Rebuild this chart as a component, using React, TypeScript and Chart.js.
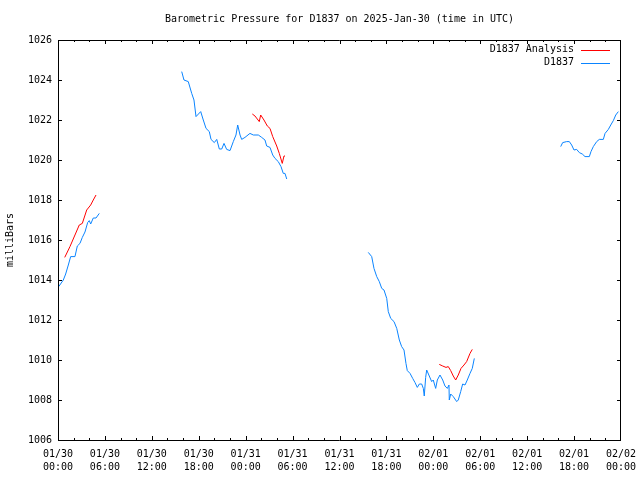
import React, { useEffect, useRef } from "react";
import { Chart, registerables } from "chart.js";

Chart.register(...registerables);

const FONT = "'DejaVu Sans Mono', 'Liberation Mono', monospace";

const TITLE = "Barometric Pressure for D1837 on 2025-Jan-30 (time in UTC)";
const Y_TITLE = "milliBars";
const SERIES_NAMES = ["D1837 Analysis", "D1837"];
const DAY_LABELS = ["01/30", "01/31", "02/01", "02/02"];

// hours since 2025-01-30 00:00 UTC
const obsHours1 = [0.09, 0.68, 0.98, 1.32, 1.62, 2.17, 2.47, 2.81, 3.11, 3.45, 3.8, 4.0, 4.18, 4.51, 4.86, 5.28];
const obsVals1 = [1013.67, 1014.0, 1014.3, 1014.75, 1015.17, 1015.17, 1015.7, 1015.83, 1016.13, 1016.4, 1016.88, 1016.97, 1016.8, 1017.1, 1017.1, 1017.33];

const obsHours2 = [15.82, 16.11, 16.66, 17.1, 17.39, 17.65, 18.25, 18.58, 18.93, 19.35, 19.57, 19.99, 20.3, 20.63, 20.94, 21.23, 21.57, 22.0, 22.42, 22.76, 22.98, 23.28, 23.49, 23.91, 24.55, 24.98, 25.62, 26.05, 26.47, 26.69, 27.11, 27.46, 27.75, 28.17, 28.52, 28.81, 29.03, 29.25];
const obsVals2 = [1024.42, 1024.0, 1023.92, 1023.33, 1023.0, 1022.17, 1022.42, 1022.0, 1021.58, 1021.42, 1021.03, 1020.87, 1021.03, 1020.55, 1020.55, 1020.83, 1020.53, 1020.47, 1020.92, 1021.25, 1021.75, 1021.25, 1021.03, 1021.13, 1021.33, 1021.25, 1021.25, 1021.13, 1021.0, 1020.7, 1020.63, 1020.25, 1020.08, 1019.92, 1019.67, 1019.33, 1019.33, 1019.05];

const obsHours3 = [39.68, 40.12, 40.41, 40.76, 41.09, 41.4, 41.69, 42.04, 42.24, 42.55, 42.97, 43.32, 43.65, 43.95, 44.25, 44.5, 44.67, 45.02, 45.36, 45.66, 45.95, 46.21, 46.51, 46.72, 46.84, 47.02, 47.15, 47.48, 47.79, 47.99, 48.3, 48.51, 48.85, 49.2, 49.49, 49.79, 50.0, 50.04, 50.22, 50.55, 50.99, 51.19, 51.5, 51.75, 52.05, 52.34, 52.69, 52.98, 53.24];
const obsVals3 = [1015.38, 1015.17, 1014.58, 1014.17, 1013.92, 1013.58, 1013.5, 1013.08, 1012.42, 1012.08, 1011.92, 1011.58, 1011.0, 1010.67, 1010.5, 1009.83, 1009.47, 1009.33, 1009.08, 1008.87, 1008.63, 1008.8, 1008.8, 1008.58, 1008.2, 1009.13, 1009.5, 1009.2, 1008.92, 1009.0, 1008.58, 1009.0, 1009.25, 1009.0, 1008.7, 1008.58, 1008.75, 1008.0, 1008.3, 1008.17, 1007.92, 1008.0, 1008.42, 1008.8, 1008.75, 1009.0, 1009.33, 1009.58, 1010.08];

const obsHours4 = [64.29, 64.54, 65.05, 65.39, 65.69, 65.99, 66.33, 66.67, 67.05, 67.4, 67.95, 68.16, 68.46, 68.89, 69.23, 69.74, 69.96, 70.38, 70.69, 71.02, 71.33, 71.66];
const obsVals4 = [1020.67, 1020.87, 1020.92, 1020.92, 1020.75, 1020.5, 1020.53, 1020.37, 1020.3, 1020.17, 1020.17, 1020.42, 1020.67, 1020.92, 1021.03, 1021.03, 1021.33, 1021.53, 1021.75, 1021.97, 1022.25, 1022.42];

const anaHours1 = [0.86, 1.53, 2.17, 2.72, 3.11, 3.67, 4.18, 4.51, 4.86];
const anaVals1 = [1015.13, 1015.67, 1016.25, 1016.75, 1016.83, 1017.5, 1017.75, 1018.0, 1018.25];

const anaHours2 = [24.85, 25.19, 25.74, 25.92, 26.34, 26.77, 27.11, 27.46, 27.97, 28.3, 28.68, 28.9, 29.03];
const anaVals2 = [1022.3, 1022.2, 1021.92, 1022.25, 1022.0, 1021.7, 1021.58, 1021.17, 1020.7, 1020.33, 1019.83, 1020.2, 1020.2];

const anaHours3 = [48.76, 49.2, 49.62, 49.91, 50.22, 50.55, 50.86, 51.19, 51.54, 51.92, 52.26, 52.69, 52.98];
const anaVals3 = [1009.78, 1009.7, 1009.63, 1009.67, 1009.47, 1009.2, 1009.0, 1009.25, 1009.58, 1009.75, 1009.92, 1010.33, 1010.53];

const X_MIN = 0;
const X_MAX = 72;
const X_STEP = 6;
const X_MINOR = 2;
const Y_MIN = 1006;
const Y_MAX = 1026;
const Y_STEP = 2;

const RED = "#ff0000";
const BLUE = "#0a84ff";

function joinSegments(segs: [number[], number[]][]) {
  const out: { x: number; y: number | null }[] = [];
  segs.forEach(([hs, vs], i) => {
    if (i > 0) {
      const prev = segs[i - 1][0];
      out.push({ x: (prev[prev.length - 1] + hs[0]) / 2, y: null });
    }
    hs.forEach((h, j) => out.push({ x: h, y: vs[j] }));
  });
  return out;
}

const framePlugin = {
  id: "frame",
  afterDraw(chart: any) {
    const ctx = chart.ctx;
    const { left, right, top, bottom } = chart.chartArea;
    const xs = chart.scales.x;
    const ys = chart.scales.y;
    ctx.save();
    ctx.strokeStyle = "#000";
    ctx.lineWidth = 1;
    ctx.beginPath();
    ctx.rect(Math.round(left) + 0.5, Math.round(top) + 0.5, Math.round(right - left) - 1, Math.round(bottom - top));
    ctx.stroke();
    ctx.beginPath();
    for (let v = X_MIN; v <= X_MAX; v += X_MINOR) {
      const px = Math.min(Math.round(xs.getPixelForValue(v)), Math.round(right) - 1) + 0.5;
      const len = v % X_STEP === 0 ? 4 : 2;
      ctx.moveTo(px, bottom);
      ctx.lineTo(px, bottom - len);
      ctx.moveTo(px, top);
      ctx.lineTo(px, top + len);
    }
    for (let v = Y_MIN; v <= Y_MAX; v += Y_STEP) {
      const py = Math.round(ys.getPixelForValue(v)) + 0.5;
      ctx.moveTo(left, py);
      ctx.lineTo(left + 4, py);
      ctx.moveTo(right, py);
      ctx.lineTo(right - 4, py);
    }
    ctx.stroke();

    ctx.fillStyle = "#000";
    ctx.font = `10px ${FONT}`;
    ctx.textBaseline = "middle";
    ctx.textAlign = "center";
    ctx.fillText(TITLE, (left + right) / 2, 19);

    // legend
    const legend: [string, string, number][] = [
      [SERIES_NAMES[0], RED, 49.5],
      [SERIES_NAMES[1], BLUE, 62.5],
    ];
    ctx.textAlign = "right";
    legend.forEach(([name, color, y]) => {
      ctx.fillStyle = "#000";
      ctx.fillText(name, 574, y);
      ctx.strokeStyle = color;
      ctx.beginPath();
      ctx.moveTo(581, Math.round(y) + 0.5);
      ctx.lineTo(610, Math.round(y) + 0.5);
      ctx.stroke();
    });
    ctx.restore();
  },
};

export default function App() {
  const ref = useRef<HTMLCanvasElement | null>(null);
  useEffect(() => {
    if (!ref.current) return;
    const chart = new Chart(ref.current, {
      type: "line",
      data: {
        datasets: [
          {
            label: SERIES_NAMES[1],
            data: joinSegments([
              [obsHours1, obsVals1],
              [obsHours2, obsVals2],
              [obsHours3, obsVals3],
              [obsHours4, obsVals4],
            ]) as any,
            borderColor: BLUE,
            borderWidth: 1,
            pointRadius: 0,
            tension: 0,
            spanGaps: false,
          },
          {
            label: SERIES_NAMES[0],
            data: joinSegments([
              [anaHours1, anaVals1],
              [anaHours2, anaVals2],
              [anaHours3, anaVals3],
            ]) as any,
            borderColor: RED,
            borderWidth: 1,
            pointRadius: 0,
            tension: 0,
            spanGaps: false,
          },
        ],
      },
      options: {
        responsive: false,
        animation: false,
        devicePixelRatio: 1,
        layout: { padding: { top: 40, right: 19, left: 0, bottom: 0 } },
        plugins: {
          legend: { display: false },
          title: { display: false },
          tooltip: { enabled: false },
        },
        scales: {
          x: {
            type: "linear",
            min: X_MIN,
            max: X_MAX,
            grid: { display: false, drawTicks: false },
            border: { display: false },
            ticks: {
              stepSize: X_STEP,
              autoSkip: false,
              maxRotation: 0,
              padding: 8,
              color: "#000",
              font: { family: FONT, size: 10, lineHeight: 1.3 },
              callback: (v: any) => {
                const h = Number(v);
                const day = DAY_LABELS[Math.floor(h / 24)];
                const hh = String(h % 24).padStart(2, "0");
                return [day, `${hh}:00`];
              },
            },
            afterFit: (s: any) => {
              s.height = 40;
              s.paddingLeft = 0;
              s.paddingRight = 0;
            },
          },
          y: {
            min: Y_MIN,
            max: Y_MAX,
            grid: { display: false, drawTicks: false },
            border: { display: false },
            ticks: {
              stepSize: Y_STEP,
              padding: 6,
              color: "#000",
              font: { family: FONT, size: 10 },
              callback: (v: any) => String(v),
            },
            title: {
              display: true,
              text: Y_TITLE,
              color: "#000",
              font: { family: FONT, size: 10 },
              padding: { top: 4, bottom: 0 },
            },
            afterFit: (s: any) => {
              s.width = 58;
              s.paddingTop = 0;
              s.paddingBottom = 0;
            },
          },
        },
      },
      plugins: [framePlugin],
    });
    return () => chart.destroy();
  }, []);
  return (
    <div style={{ position: "absolute", left: 0, top: 0, width: 640, height: 480, background: "#fff" }}>
      <canvas ref={ref} width={640} height={480} />
    </div>
  );
}
